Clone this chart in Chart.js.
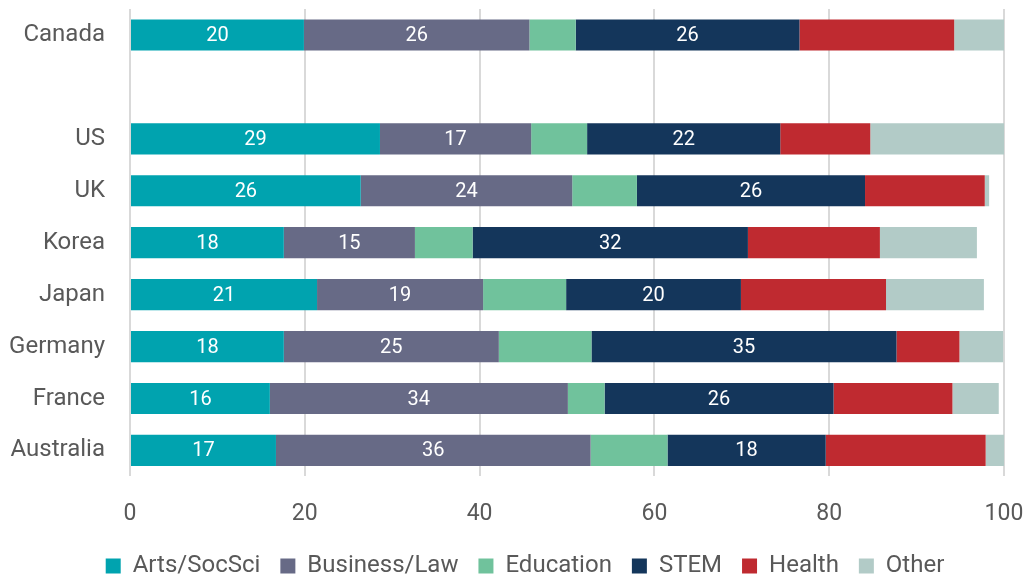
<!DOCTYPE html>
<html>
<head>
<meta charset="utf-8">
<script src="https://cdn.jsdelivr.net/npm/chart.js@4/dist/chart.umd.min.js"></script>
<style>
  html, body { margin: 0; padding: 0; background: #fff; }
  #wrap { width: 1028px; height: 577px; }
</style>
</head>
<body>
<div id="wrap"><canvas id="chart"></canvas></div>
<script>
// categories (blank one is the gap under Canada)
const countries = ["Canada", "", "US", "UK", "Korea", "Japan", "Germany", "France", "Australia"];

// share of graduates by field, %
const arts      = [19.9, null, 28.6, 26.4, 17.6, 21.4, 17.6, 16.0, 16.7];
const business  = [25.8, null, 17.3, 24.2, 15.0, 19.0, 24.6, 34.1, 36.0];
const education = [5.3,  null, 6.4,  7.4,  6.6,  9.5,  10.6, 4.2,  8.8];
const stem      = [25.6, null, 22.1, 26.1, 31.5, 20.0, 34.9, 26.2, 18.1];
const health    = [17.7, null, 10.3, 13.7, 15.1, 16.6, 7.2,  13.6, 18.3];
const other     = [5.7,  null, 15.3, 0.5,  11.1, 11.2, 5.0,  5.3,  2.1];

const xTicks = [0, 20, 40, 60, 80, 100];

const FONT = "Roboto, 'Open Sans', sans-serif";

// white value labels on Arts, Business and STEM segments
const barLabels = {
  id: "barLabels",
  afterDatasetsDraw(chart) {
    const ctx = chart.ctx;
    ctx.save();
    ctx.fillStyle = "#fff";
    ctx.font = "20px " + FONT;
    ctx.textAlign = "center";
    ctx.textBaseline = "middle";
    [0, 1, 3].forEach(di => {
      const meta = chart.getDatasetMeta(di);
      meta.data.forEach((bar, i) => {
        const v = chart.data.datasets[di].data[i];
        if (v == null) return;
        const cx = (bar.x + bar.base) / 2;
        ctx.fillText(Math.round(v), cx, bar.y + 1);
      });
    });
    ctx.restore();
  }
};

// nudge the legend without touching the plot area
const legendShift = {
  id: "legendShift",
  afterLayout(chart) {
    const lg = chart.legend;
    if (!lg) return;
    lg.top -= 18;
    lg.bottom -= 18;
    lg.left += 23;
    lg.right += 23;
  }
};

new Chart(document.getElementById("chart"), {
  type: "bar",
  data: {
    labels: countries,
    datasets: [
      { label: "Arts/SocSci",  data: arts,      backgroundColor: "#00A3AF" },
      { label: "Business/Law", data: business,  backgroundColor: "#676A86" },
      { label: "Education",    data: education, backgroundColor: "#70C29C" },
      { label: "STEM",         data: stem,      backgroundColor: "#14365B" },
      { label: "Health",       data: health,    backgroundColor: "#BF2A30" },
      { label: "Other",        data: other,     backgroundColor: "#B2CBC7" }
    ]
  },
  options: {
    indexAxis: "y",
    responsive: true,
    maintainAspectRatio: false,
    animation: false,
    datasets: { bar: { barPercentage: 0.6, categoryPercentage: 1.0 } },
    layout: { padding: { top: 9, right: 24, left: 0, bottom: -29 } },
    scales: {
      x: {
        stacked: true,
        min: 0,
        max: 100,
        afterBuildTicks: s => { s.ticks = xTicks.map(v => ({ value: v })); },
        grid: { color: "#d9d9d9", lineWidth: 2, drawTicks: false },
        border: { display: false },
        ticks: { color: "#595959", font: { family: FONT, size: 23 }, padding: 24 },
        afterFit: s => { s.paddingLeft = 0; s.paddingRight = 0; }
      },
      y: {
        stacked: true,
        grid: { display: false, drawTicks: false },
        border: { display: false },
        ticks: { color: "#595959", font: { family: FONT, size: 24 }, padding: 25, autoSkip: false },
        afterFit: s => { s.width = 130; s.paddingTop = 0; s.paddingBottom = 0; }
      }
    },
    plugins: {
      legend: {
        position: "bottom",
        labels: {
          color: "#595959",
          font: { family: FONT, size: 24 },
          boxWidth: 15,
          boxHeight: 15,
          padding: 20
        }
      },
      tooltip: { enabled: false }
    }
  },
  plugins: [barLabels, legendShift]
});
</script>
</body>
</html>
